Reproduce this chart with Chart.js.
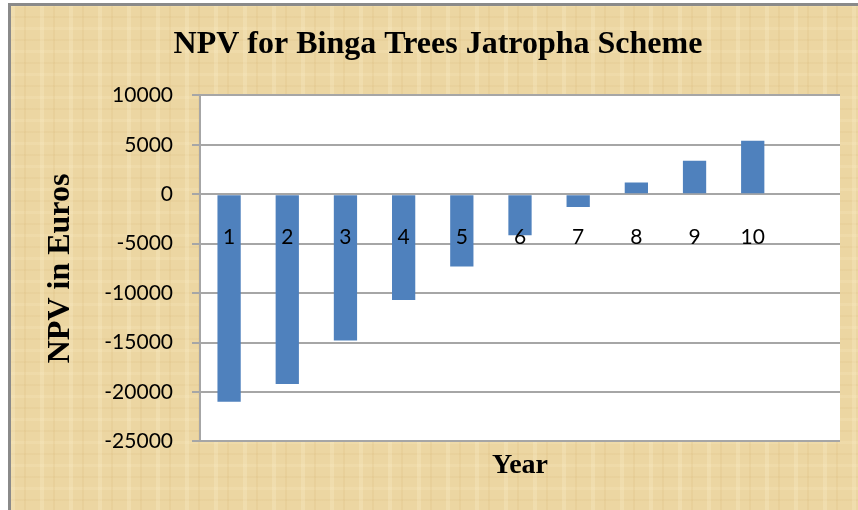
<!DOCTYPE html>
<html>
<head>
<meta charset="utf-8">
<script src="https://cdn.jsdelivr.net/npm/chart.js@4/dist/chart.umd.min.js"></script>
<style>
  html, body { margin: 0; padding: 0; background: #fff; }
  #paper {
    position: absolute; left: 8px; top: 3px; width: 850px; height: 507px;
    border-left: 3px solid #8a8a8a; border-top: 3px solid #8a8a8a;
    background-color: #ecd6a2;
    background-image:
      repeating-linear-gradient(90deg, rgba(255,246,215,0.22) 0 4px, rgba(0,0,0,0) 4px 13px, rgba(205,165,95,0.12) 13px 15px, rgba(0,0,0,0) 15px 29px),
      repeating-linear-gradient(0deg, rgba(255,242,205,0.16) 0 3px, rgba(0,0,0,0) 3px 12px, rgba(195,155,85,0.08) 12px 14px, rgba(0,0,0,0) 14px 23px);
  }
  #box { position: absolute; left: 0; top: 0; width: 858px; height: 510px; }
</style>
</head>
<body>
<div id="paper"></div>
<div id="box"><canvas id="npvChart"></canvas></div>
<script>
// Chart data
const years = ['1', '2', '3', '4', '5', '6', '7', '8', '9', '10', ''];
const npvValues = [-21000, -19200, -14800, -10700, -7300, -4150, -1300, 1200, 3400, 5400, null];
const yTicks = { min: -25000, max: 10000, step: 5000 };

// white plot area behind the bars
const plotBackground = {
  id: 'plotBackground',
  beforeDraw(chart) {
    const { ctx, chartArea } = chart;
    ctx.save();
    ctx.fillStyle = '#ffffff';
    ctx.fillRect(chartArea.left, chartArea.top, chartArea.right - chartArea.left, chartArea.bottom - chartArea.top);
    ctx.restore();
  }
};

const ctx = document.getElementById('npvChart').getContext('2d');
new Chart(ctx, {
  type: 'bar',
  data: {
    labels: years,
    datasets: [{
      label: 'NPV',
      data: npvValues,
      backgroundColor: '#4f81bd',
      borderWidth: 0,
      barPercentage: 0.4,
      categoryPercentage: 1.0
    }]
  },
  plugins: [plotBackground],
  options: {
    responsive: true,
    maintainAspectRatio: false,
    animation: false,
    layout: {
      padding: { left: 36, right: 18, top: 0, bottom: 27 }
    },
    plugins: {
      legend: { display: false },
      tooltip: { enabled: false },
      title: {
        display: true,
        text: 'NPV for Binga Trees Jatropha Scheme',
        color: '#000',
        font: { family: '"Liberation Serif", "Times New Roman", serif', size: 32, weight: 'bold' },
        padding: { top: 26, bottom: 31 }
      },
      subtitle: {
        display: true,
        position: 'bottom',
        fullSize: false,
        text: 'Year',
        color: '#000',
        font: { family: '"Liberation Serif", "Times New Roman", serif', size: 28, weight: 'bold' },
        padding: { top: 8, bottom: 0 }
      }
    },
    scales: {
      x: {
        position: { y: 0 },
        grid: { display: false, drawTicks: false },
        border: { display: false },
        ticks: {
          z: 1, // year labels sit on top of the bars
          color: '#000',
          padding: 30,
          maxRotation: 0,
          autoSkip: false,
          font: { family: 'Lato, "Liberation Sans", sans-serif', size: 21 }
        }
      },
      y: {
        min: yTicks.min,
        max: yTicks.max,
        afterFit(axis) { axis.width = 164; },
        grid: { color: '#a6a6a6', lineWidth: 2, tickLength: 8 },
        border: { color: '#a6a6a6', width: 2 },
        ticks: {
          stepSize: yTicks.step,
          color: '#000',
          padding: 19,
          font: { family: 'Lato, "Liberation Sans", sans-serif', size: 21 },
          callback: value => String(value)
        },
        title: {
          display: true,
          text: 'NPV in Euros',
          color: '#000',
          font: { family: '"Liberation Serif", "Times New Roman", serif', size: 32, weight: 'bold' },
          padding: { top: 6, bottom: 0 }
        }
      }
    }
  }
});
</script>
</body>
</html>
